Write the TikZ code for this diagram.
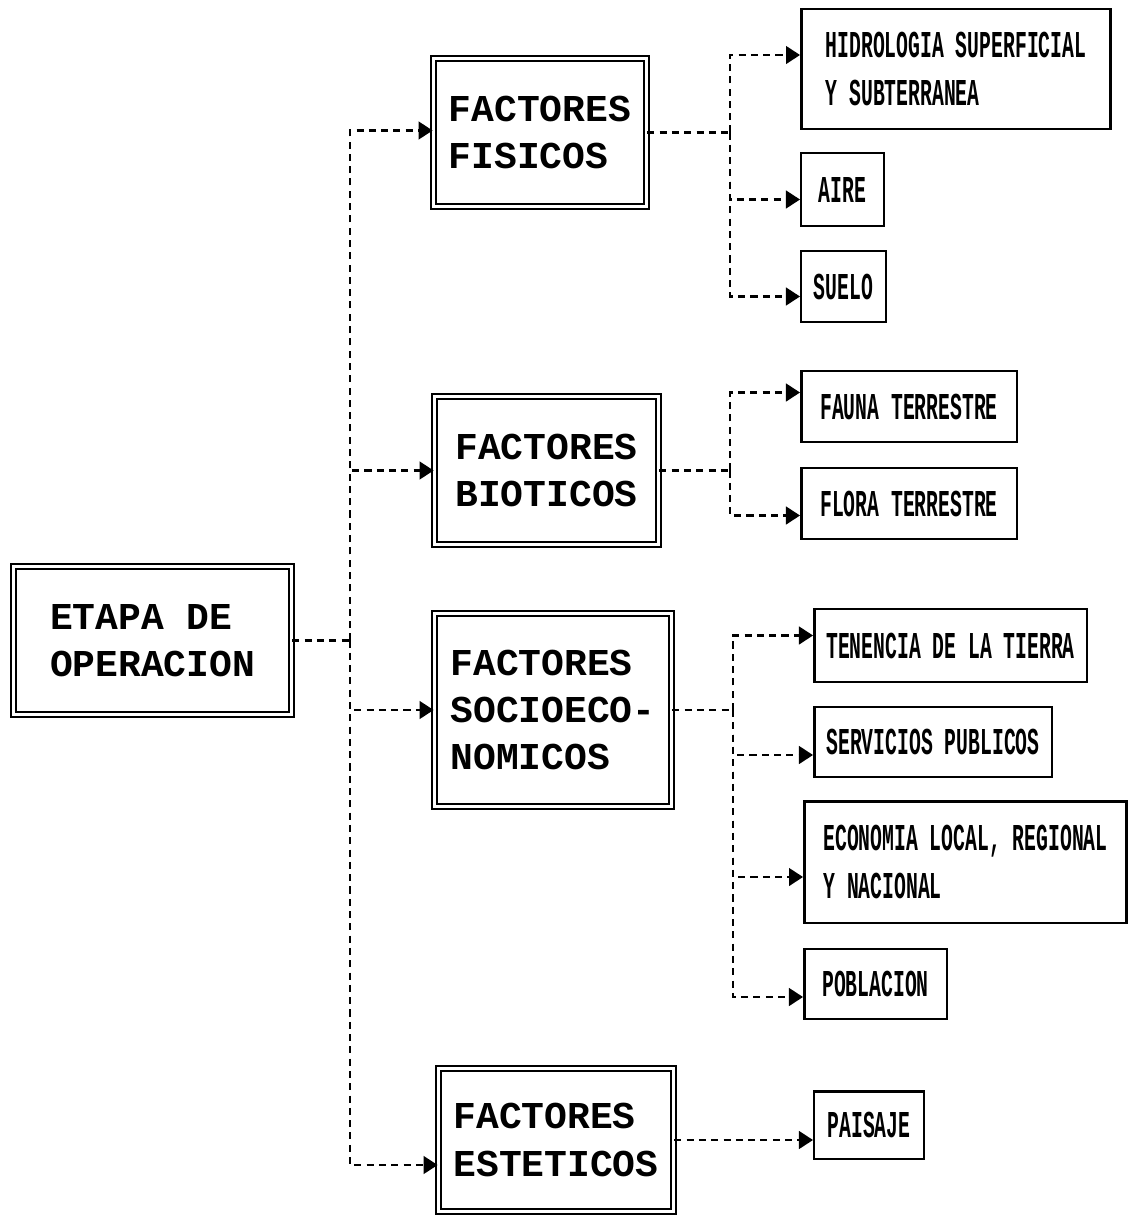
\documentclass[tikz,border=0pt]{standalone}
\usepackage{fontspec}
\newfontfamily\bigfont{Liberation Mono}
\newfontfamily\narrowfont[FakeStretch=0.52]{Liberation Mono}
\usetikzlibrary{arrows.meta,positioning,calc}

\begin{document}
\begin{tikzpicture}[
    x=0.02cm, y=-0.02cm,
    factor/.style={rectangle, draw, double, line width=1pt, double distance=2pt, align=left, inner sep=0pt, font=\bigfont\bfseries\fontsize{21.6}{27}\selectfont},
    item/.style={rectangle, draw, line width=1.4pt, align=left, inner sep=0pt, font=\narrowfont\bfseries\fontsize{21.6}{27}\selectfont},
    link/.style={line width=1.5pt, dash pattern=on 4pt off 3pt},
    arrow/.style={link, -{Triangle[length=8pt,width=10pt]}}
]
\useasboundingbox (0,0) rectangle (1130,1218);

% Nodes
\node[factor, minimum width=5.56cm, minimum height=2.96cm] (etapa) at (152.5,640.5) {ETAPA DE\\OPERACION};

\node[factor, minimum width=4.26cm, minimum height=2.96cm] (fis) at (540,132.5) {FACTORES\\FISICOS};
\node[factor, minimum width=4.48cm, minimum height=2.96cm] (bio) at (546.5,470.5) {FACTORES\\BIOTICOS};
\node[factor, minimum width=4.74cm, minimum height=3.86cm] (soc) at (553,710) {FACTORES\\SOCIOECO-\\NOMICOS};
\node[factor, minimum width=4.70cm, minimum height=2.86cm] (est) at (556,1140) {FACTORES\\ESTETICOS};

\node[item, minimum width=6.19cm, minimum height=2.39cm] (hid) at (956,69) {HIDROLOGIA SUPERFICIAL\\Y SUBTERRANEA};
\node[item, minimum width=1.65cm, minimum height=1.45cm] (aire) at (842.5,189.5) {AIRE};
\node[item, minimum width=1.69cm, minimum height=1.41cm] (suelo) at (843.5,286.5) {SUELO};

\node[item, minimum width=4.31cm, minimum height=1.41cm] (fauna) at (909,406.5) {FAUNA TERRESTRE};
\node[item, minimum width=4.31cm, minimum height=1.41cm] (flora) at (909,503.5) {FLORA TERRESTRE};

\node[item, minimum width=5.45cm, minimum height=1.45cm] (ten) at (950.5,645.5) {TENENCIA DE LA TIERRA};
\node[item, minimum width=4.75cm, minimum height=1.39cm] (serv) at (933,742) {SERVICIOS PUBLICOS};
\node[item, minimum width=6.45cm, minimum height=2.43cm] (eco) at (965.5,862) {ECONOMIA LOCAL, REGIONAL\\Y NACIONAL};
\node[item, minimum width=2.85cm, minimum height=1.39cm] (pob) at (875.5,984) {POBLACION};

\node[item, minimum width=2.19cm, minimum height=1.35cm] (pai) at (869,1125) {PAISAJE};

% Junctions
\coordinate (j0) at (350,640.5);
\coordinate (j1) at (730,132.5);
\coordinate (j2) at (730,470.5);
\coordinate (j3) at (733,710);

% Edges
\draw[link] (etapa.east) -- (j0);
\draw[arrow] (j0) |- ($(fis.west)+(0,-2)$);
\draw[arrow] (j0) |- (bio.west);
\draw[arrow] (j0) |- (soc.west);
\draw[arrow] (j0) |- ($(est.west)+(0,25)$);

\draw[link] (fis.east) -- (j1);
\draw[arrow] (j1) |- ($(hid.west)+(0,-14)$);
\draw[arrow] (j1) |- ($(aire.west)+(0,10)$);
\draw[arrow] (j1) |- ($(suelo.west)+(0,10)$);

\draw[link] (bio.east) -- (j2);
\draw[arrow] (j2) |- ($(fauna.west)+(0,-14)$);
\draw[arrow] (j2) |- ($(flora.west)+(0,12)$);

\draw[link] (soc.east) -- (j3);
\draw[arrow] (j3) |- ($(ten.west)+(0,-10)$);
\draw[arrow] (j3) |- ($(serv.west)+(0,13)$);
\draw[arrow] (j3) |- ($(eco.west)+(0,15)$);
\draw[arrow] (j3) |- ($(pob.west)+(0,13)$);

\draw[arrow] (est.east) -- (est.east -| pai.west);

\end{tikzpicture}
\end{document}
